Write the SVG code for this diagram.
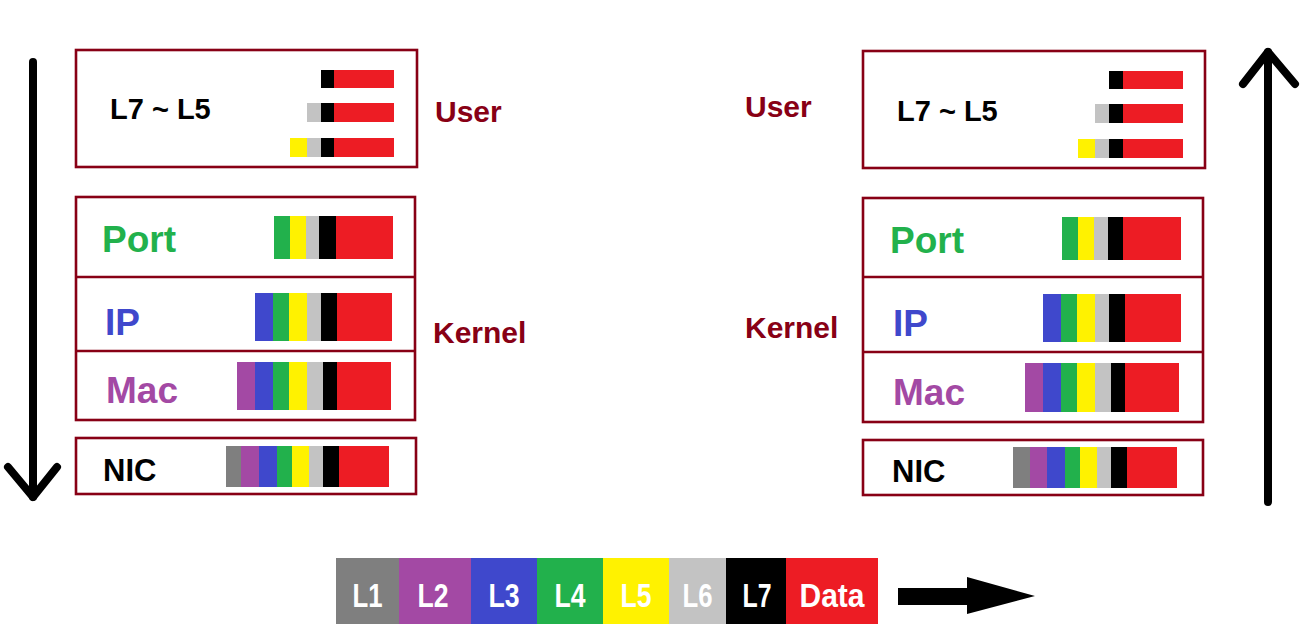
<svg xmlns="http://www.w3.org/2000/svg" width="1313" height="637" viewBox="0 0 1313 637">
<style>
.box{fill:none;stroke:#880015;stroke-width:2.6}
.div{stroke:#880015;stroke-width:2.6}
.gy{fill:#7F7F7F}.pu{fill:#A349A4}.bl{fill:#3F48CC}.gr{fill:#22B14C}.ye{fill:#FFF200}.lg{fill:#C3C3C3}.bk{fill:#000000}.rd{fill:#ED1C24}
.t{font-family:"Liberation Sans",Arial,sans-serif;font-weight:bold}
.lay{font-size:29px;fill:#000}
.side{font-size:30px;fill:#880015}
.big{font-size:37px}
.nic{font-size:31px;fill:#000}
.leg{font-family:"Liberation Sans",Arial,sans-serif;font-weight:bold;font-size:34px;fill:#fff;text-anchor:middle}
.arr{fill:none;stroke:#000;stroke-width:8;stroke-linecap:round;stroke-linejoin:round}
</style>
<rect width="1313" height="637" fill="#fff"/>

<!-- LEFT SIDE -->
<g id="left-user">
<rect class="box" x="76" y="50" width="341" height="117"/>
<text class="t lay" x="110" y="119">L7 ~ L5</text>
<rect class="bk" x="321" y="70" width="13" height="18"/><rect class="rd" x="334" y="70" width="60" height="18"/>
<rect class="lg" x="307" y="103" width="14" height="19"/><rect class="bk" x="321" y="103" width="13" height="19"/><rect class="rd" x="334" y="103" width="60" height="19"/>
<rect class="ye" x="290" y="138" width="17" height="19"/><rect class="lg" x="307" y="138" width="14" height="19"/><rect class="bk" x="321" y="138" width="13" height="19"/><rect class="rd" x="334" y="138" width="60" height="19"/>
</g>
<g id="left-kernel">
<rect class="box" x="76" y="197" width="339" height="223"/>
<line class="div" x1="76" y1="277" x2="415" y2="277"/>
<line class="div" x1="76" y1="351" x2="415" y2="351"/>
<g id="left-port">
<text class="t big" x="102" y="252" fill="#22B14C">Port</text>
<rect class="gr" x="274" y="216" width="16" height="43"/><rect class="ye" x="290" y="216" width="16" height="43"/><rect class="lg" x="306" y="216" width="13" height="43"/><rect class="bk" x="319" y="216" width="17" height="43"/><rect class="rd" x="336" y="216" width="57" height="43"/>
</g>
<g id="left-ip">
<text class="t big" x="105" y="335" fill="#3F48CC">IP</text>
<rect class="bl" x="255" y="293" width="18" height="48"/><rect class="gr" x="273" y="293" width="16" height="48"/><rect class="ye" x="289" y="293" width="18" height="48"/><rect class="lg" x="307" y="293" width="14" height="48"/><rect class="bk" x="321" y="293" width="16" height="48"/><rect class="rd" x="337" y="293" width="55" height="48"/>
</g>
<g id="left-mac">
<text class="t big" x="106" y="403" fill="#A349A4">Mac</text>
<rect class="pu" x="237" y="362" width="18" height="48"/><rect class="bl" x="255" y="362" width="18" height="48"/><rect class="gr" x="273" y="362" width="16" height="48"/><rect class="ye" x="289" y="362" width="18" height="48"/><rect class="lg" x="307" y="362" width="16" height="48"/><rect class="bk" x="323" y="362" width="14" height="48"/><rect class="rd" x="337" y="362" width="54" height="48"/>
</g>
</g>
<g id="left-nic">
<rect class="box" x="76" y="438" width="340" height="56"/>
<text class="t nic" x="103" y="481">NIC</text>
<rect class="gy" x="226" y="446" width="15" height="41"/><rect class="pu" x="241" y="446" width="18" height="41"/><rect class="bl" x="259" y="446" width="18" height="41"/><rect class="gr" x="277" y="446" width="15" height="41"/><rect class="ye" x="292" y="446" width="17" height="41"/><rect class="lg" x="309" y="446" width="14" height="41"/><rect class="bk" x="323" y="446" width="16" height="41"/><rect class="rd" x="339" y="446" width="50" height="41"/>
</g>
<g id="left-labels">
<text class="t side" x="435" y="122">User</text>
<text class="t side" x="433" y="343">Kernel</text>
</g>

<!-- RIGHT SIDE -->
<g id="right-user">
<rect class="box" x="863" y="51" width="342" height="117"/>
<text class="t lay" x="897" y="121">L7 ~ L5</text>
<rect class="bk" x="1109" y="71" width="14" height="18"/><rect class="rd" x="1123" y="71" width="60" height="18"/>
<rect class="lg" x="1095" y="104" width="14" height="19"/><rect class="bk" x="1109" y="104" width="14" height="19"/><rect class="rd" x="1123" y="104" width="60" height="19"/>
<rect class="ye" x="1078" y="139" width="17" height="19"/><rect class="lg" x="1095" y="139" width="14" height="19"/><rect class="bk" x="1109" y="139" width="14" height="19"/><rect class="rd" x="1123" y="139" width="60" height="19"/>
</g>
<g id="right-kernel">
<rect class="box" x="863" y="198" width="340" height="224"/>
<line class="div" x1="863" y1="277" x2="1203" y2="277"/>
<line class="div" x1="863" y1="352" x2="1203" y2="352"/>
<g id="right-port">
<text class="t big" x="890" y="253" fill="#22B14C">Port</text>
<rect class="gr" x="1062" y="217" width="16" height="43"/><rect class="ye" x="1078" y="217" width="16" height="43"/><rect class="lg" x="1094" y="217" width="14" height="43"/><rect class="bk" x="1108" y="217" width="15" height="43"/><rect class="rd" x="1123" y="217" width="58" height="43"/>
</g>
<g id="right-ip">
<text class="t big" x="893" y="336" fill="#3F48CC">IP</text>
<rect class="bl" x="1043" y="294" width="18" height="48"/><rect class="gr" x="1061" y="294" width="16" height="48"/><rect class="ye" x="1077" y="294" width="18" height="48"/><rect class="lg" x="1095" y="294" width="14" height="48"/><rect class="bk" x="1109" y="294" width="16" height="48"/><rect class="rd" x="1125" y="294" width="56" height="48"/>
</g>
<g id="right-mac">
<text class="t big" x="893" y="405" fill="#A349A4">Mac</text>
<rect class="pu" x="1025" y="363" width="18" height="49"/><rect class="bl" x="1043" y="363" width="18" height="49"/><rect class="gr" x="1061" y="363" width="16" height="49"/><rect class="ye" x="1077" y="363" width="18" height="49"/><rect class="lg" x="1095" y="363" width="16" height="49"/><rect class="bk" x="1111" y="363" width="14" height="49"/><rect class="rd" x="1125" y="363" width="54" height="49"/>
</g>
</g>
<g id="right-nic">
<rect class="box" x="863" y="440" width="340" height="55"/>
<text class="t nic" x="892" y="482">NIC</text>
<rect class="gy" x="1013" y="447" width="17" height="41"/><rect class="pu" x="1030" y="447" width="17" height="41"/><rect class="bl" x="1047" y="447" width="18" height="41"/><rect class="gr" x="1065" y="447" width="15" height="41"/><rect class="ye" x="1080" y="447" width="17" height="41"/><rect class="lg" x="1097" y="447" width="14" height="41"/><rect class="bk" x="1111" y="447" width="16" height="41"/><rect class="rd" x="1127" y="447" width="50" height="41"/>
</g>
<g id="right-labels">
<text class="t side" x="745" y="117">User</text>
<text class="t side" x="745" y="338">Kernel</text>
</g>

<!-- LEGEND -->
<g id="legend">
<rect class="gy" x="336" y="558" width="63" height="66"/>
<rect class="pu" x="399" y="558" width="72" height="66"/>
<rect class="bl" x="471" y="558" width="66" height="66"/>
<rect class="gr" x="537" y="558" width="66" height="66"/>
<rect class="ye" x="603" y="558" width="66" height="66"/>
<rect class="lg" x="669" y="558" width="57" height="66"/>
<rect class="bk" x="726" y="558" width="60" height="66"/>
<rect class="rd" x="786" y="558" width="92" height="66"/>
<text class="leg" x="367.5" y="607" textLength="30" lengthAdjust="spacingAndGlyphs">L1</text>
<text class="leg" x="433" y="607" textLength="31" lengthAdjust="spacingAndGlyphs">L2</text>
<text class="leg" x="504" y="607" textLength="31" lengthAdjust="spacingAndGlyphs">L3</text>
<text class="leg" x="570" y="607" textLength="31" lengthAdjust="spacingAndGlyphs">L4</text>
<text class="leg" x="636" y="607" textLength="31" lengthAdjust="spacingAndGlyphs">L5</text>
<text class="leg" x="697.5" y="607" textLength="30" lengthAdjust="spacingAndGlyphs">L6</text>
<text class="leg" x="757" y="607" textLength="29" lengthAdjust="spacingAndGlyphs">L7</text>
<text class="leg" x="832" y="607" textLength="65" lengthAdjust="spacingAndGlyphs">Data</text>
</g>

<!-- CONNECTORS -->
<g id="connectors">
<path class="arr" d="M33,62 L33,497"/>
<path class="arr" d="M8,467 L33,497 L57,467"/>
<path class="arr" d="M1268,502 L1268,52"/>
<path class="arr" d="M1243,84 L1268,52 L1295,84"/>
<polygon points="898,588 967,588 967,577 1035,596 967,614 967,605 898,605" fill="#000"/>
</g>
</svg>
